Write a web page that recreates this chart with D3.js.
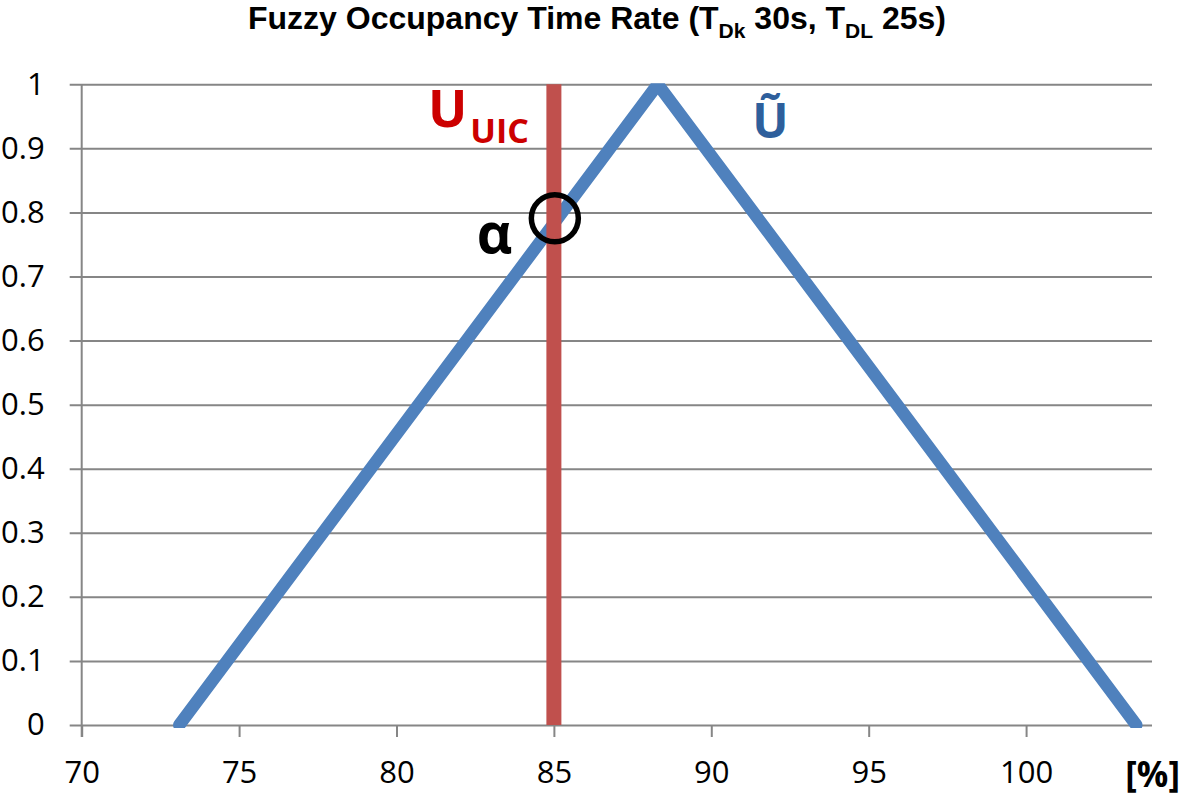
<!DOCTYPE html>
<html>
<head>
<meta charset="utf-8">
<script src="https://cdn.jsdelivr.net/npm/d3@7"></script>
<style>
  html, body { margin: 0; padding: 0; background: #fff; }
  svg { display: block; font-family: "Open Sans", "Noto Sans", sans-serif; }
</style>
</head>
<body>
<svg id="chart" width="1181" height="797"></svg>
<script>
// ---- data ----
const xTicks = [70, 75, 80, 85, 90, 95, 100];
const yTicks = [0, 0.1, 0.2, 0.3, 0.4, 0.5, 0.6, 0.7, 0.8, 0.9, 1];
const fuzzyX = [73.1, 88.3, 103.5];
const fuzzyY = [0, 1, 0];
const uicX = [85, 85];
const uicY = [0, 1];
const alphaPoint = [85.03, 0.791];
const xDomain = [70, 104];
const yDomain = [0, 1];

// ---- layout ----
const svg = d3.select("#chart");
const mLeft = 81.7, mRight = 1152, mTop = 84.3, mBottom = 725;
const x = d3.scaleLinear().domain(xDomain).range([mLeft, mRight]);
const y = d3.scaleLinear().domain(yDomain).range([mBottom, mTop]);
const gridColor = "#868686";

// title
const title = svg.append("text")
  .attr("x", 597).attr("y", 29)
  .attr("text-anchor", "middle")
  .attr("font-family", "\"Liberation Sans\", Arial, sans-serif")
  .attr("font-weight", "bold").attr("font-size", 32).attr("fill", "#000");
title.append("tspan").text("Fuzzy Occupancy Time Rate (T");
title.append("tspan").text("Dk").attr("font-size", 21).attr("dy", 9);
title.append("tspan").text(" 30s, T").attr("dy", -9);
title.append("tspan").text("DL").attr("font-size", 21).attr("dy", 9);
title.append("tspan").text(" 25s)").attr("dy", -9);

// y axis with gridlines
const yAxis = d3.axisLeft(y).tickValues(yTicks)
  .tickSize(-(mRight - mLeft + 12)).tickPadding(25)
  .tickFormat(d => d3.format("")(+d.toFixed(1)));
const gy = svg.append("g").attr("transform", `translate(${mLeft - 12},0)`).call(yAxis);
gy.select(".domain").remove();
gy.selectAll(".tick line").attr("stroke", gridColor).attr("stroke-width", 2);
gy.selectAll(".tick text").attr("font-size", 31).attr("fill", "#000")
  .attr("font-family", "\"Open Sans\", sans-serif");

// x axis
const xAxis = d3.axisBottom(x).tickValues(xTicks).tickSize(12).tickPadding(24);
const gx = svg.append("g").attr("transform", `translate(0,${mBottom})`).call(xAxis);
gx.select(".domain").remove();
gx.selectAll(".tick line").attr("stroke", gridColor).attr("stroke-width", 2);
gx.selectAll(".tick text").attr("font-size", 31).attr("fill", "#000")
  .attr("font-family", "\"Open Sans\", sans-serif");

// vertical axis line
svg.append("line")
  .attr("x1", x(xDomain[0])).attr("x2", x(xDomain[0]))
  .attr("y1", y(1)).attr("y2", y(0) + 12)
  .attr("stroke", gridColor).attr("stroke-width", 2);

// unit label
svg.append("text").attr("x", 1180).attr("y", 787).attr("text-anchor", "end")
  .attr("font-weight", "bold").attr("font-size", 35).attr("fill", "#000").text("[%]");

// clip
svg.append("clipPath").attr("id", "plotclip").append("rect")
  .attr("x", mLeft - 20).attr("y", y(1) - 1)
  .attr("width", mRight - mLeft + 40).attr("height", y(0) - y(1) + 4);

// fuzzy triangle
const line = d3.line().x(d => x(d[0])).y(d => y(d[1]));
svg.append("path")
  .datum(d3.zip(fuzzyX, fuzzyY))
  .attr("d", line)
  .attr("clip-path", "url(#plotclip)")
  .attr("fill", "none").attr("stroke", "#4F81BD").attr("stroke-width", 12.5)
  .attr("stroke-linejoin", "round").attr("stroke-linecap", "round");

// U_UIC vertical line
svg.append("path")
  .datum(d3.zip(uicX, uicY))
  .attr("d", line)
  .attr("fill", "none").attr("stroke", "#C0504D").attr("stroke-width", 15);

// alpha circle
svg.append("circle")
  .attr("cx", x(alphaPoint[0])).attr("cy", y(alphaPoint[1]))
  .attr("r", 23.5).attr("fill", "none").attr("stroke", "#000").attr("stroke-width", 5.5);

// annotations
const uLbl = svg.append("text")
  .attr("x", x(81.0)).attr("y", y(0.933))
  .attr("font-weight", "bold").attr("fill", "#CC0000").attr("font-size", 52);
uLbl.append("tspan").text("U");
uLbl.append("tspan").text("UIC").attr("font-size", 34).attr("dx", 3).attr("dy", 16);

svg.append("text")
  .attr("x", x(91.3)).attr("y", y(0.916))
  .attr("font-weight", "bold").attr("fill", "#2E5F9C").attr("font-size", 48)
  .text("Ũ");

svg.append("text")
  .attr("x", x(82.55)).attr("y", y(0.737))
  .attr("font-weight", "bold").attr("fill", "#000").attr("font-size", 55)
  .text("α");
</script>
</body>
</html>
